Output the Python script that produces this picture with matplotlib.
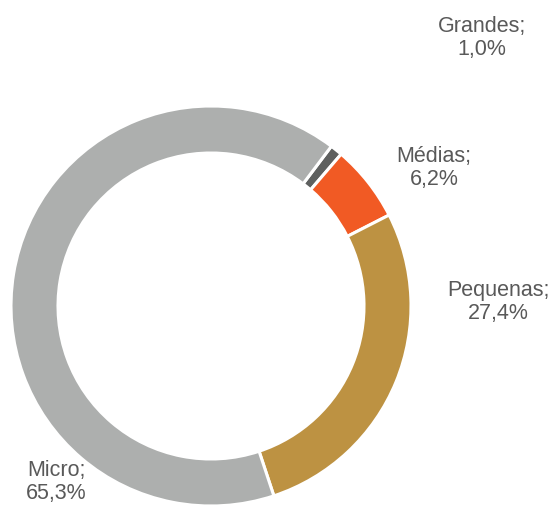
import matplotlib
matplotlib.use("Agg")
import matplotlib.pyplot as plt

categories = ["Grandes", "Médias", "Pequenas", "Micro"]
values = [1.0, 6.2, 27.4, 65.3]
labels = ["Grandes;\n1,0%", "Médias;\n6,2%", "Pequenas;\n27,4%", "Micro;\n65,3%"]
colors = ["#5e605f", "#f15a24", "#bd9242", "#adafae"]
# label centres in pixel coordinates (from top-left)
label_pos = [(482, 38), (434, 168), (498, 302), (56, 482)]

W, H = 554, 505
fig = plt.figure(figsize=(W / 100, H / 100), dpi=100)
ax = fig.add_axes([0, 0, 1, 1])
ax.set_xlim(0, W)
ax.set_ylim(0, H)
ax.set_aspect("equal")
ax.axis("off")

cx, cy, R = 211, H - 306, 200
ax.pie(values, colors=colors, startangle=53, counterclock=False,
       center=(cx, cy), radius=R, frame=True,
       wedgeprops=dict(width=47, edgecolor="white", linewidth=2.2))
ax.set_xlim(0, W)
ax.set_ylim(0, H)
ax.axis("off")

for lab, (x, y) in zip(labels, label_pos):
    ax.text(x, H - y, lab, ha="center", va="center", fontsize=15.5,
            family="Liberation Sans", color="#595959", linespacing=1.1)

fig.savefig("out.png", dpi=100)
